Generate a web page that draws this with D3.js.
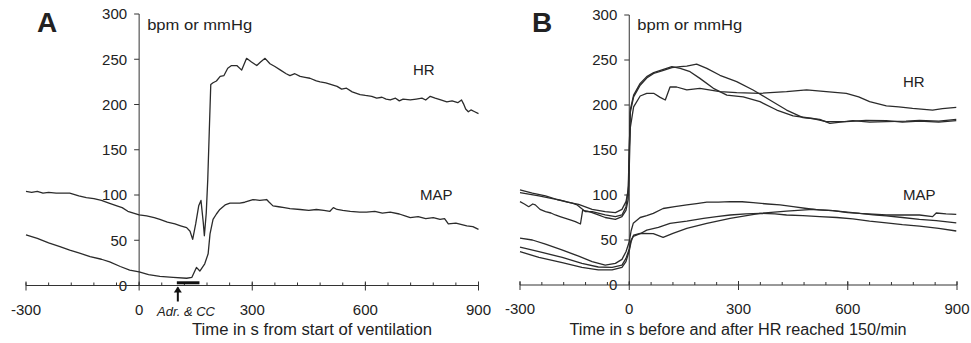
<!DOCTYPE html>
<meta charset="utf-8">
<title>HR and MAP</title>
<script src="https://cdn.jsdelivr.net/npm/d3@7/dist/d3.min.js"></script>
<style>
body { margin: 0; background: #fff; }
svg { display: block; }
text { font-family: "Liberation Sans", Arial, sans-serif; fill: #222; }
path.trace { fill: none; stroke: #2b2b2b; stroke-width: 1.3px; stroke-linejoin: round; }
line.ax { stroke: #333; stroke-width: 1px; }
</style>
<body>
<script>

// ticks
var xTicks = [-300, 0, 300, 600, 900];
var xMinor = d3.range(-300, 901, 60);
var yTicks = [0, 50, 100, 150, 200, 250, 300];

// panel A : [time s, value]
var aHR = [[-300,104],[-285,103],[-270,104],[-255,102],[-240,103],[-220,102],[-200,102],[-184,102],[-160,99],
  [-140,97],[-120,96],[-100,94],[-80,91],[-59,88],[-45,86],[-30,82],[-15,80],[0,78],[20,77],[40,75],[55,73],
  [75,70],[95,68],[110,66],[126,64],[135,60],[142,51],[150,68],[158,88],[164,94],[170,70],[173,55],[178,80],
  [182,117],[186,170],[190,222],[196,224],[205,226],[215,231],[225,232],[235,240],[245,243],[259,243],[272,238],
  [285,251],[298,247],[312,243],[322,247],[334,251],[347,245],[360,242],[375,238],[390,234],[400,232],[413,234],
  [427,231],[440,230],[453,229],[470,226],[480,225],[495,224],[510,222],[525,220],[537,217],[550,218],[565,214],
  [586,211],[600,210],[617,209],[630,207],[644,208],[655,206],[666,205],[680,207],[690,204],[700,206],[719,205],
  [735,206],[750,207],[760,205],[772,209],[785,207],[800,205],[816,203],[830,204],[845,202],[855,205],[860,201],
  [866,195],[873,192],[880,194],[890,192],[900,190]];

var aMAP = [[-300,56],[-270,52],[-240,47],[-210,43],[-184,39],[-160,36],[-130,32],[-100,29],[-78,26],[-50,21],
  [-25,17],[0,15],[25,12],[55,10],[90,9],[126,8],[140,9],[152,20],[161,16],[174,24],[183,35],[188,57],[196,73],
  [205,79],[214,84],[228,89],[241,91],[255,91],[267,91],[280,92],[302,95],[320,94],[338,95],[345,92],[355,88],
  [370,87],[385,86],[400,85],[427,84],[450,83],[470,84],[490,83],[506,82],[515,86],[525,84],[540,83],[560,82],
  [585,81],[603,81],[625,82],[645,80],[666,81],[690,79],[705,77],[719,75],[740,76],[760,74],[780,75],[798,73],
  [810,74],[820,68],[840,69],[869,66],[885,65],[900,62]];

// adrenaline & chest compression period [start s, end s, level]
var adrBar = [100, 160, 3];

// panel B : three animals each
var bHR1 = [[-300,105.6],[-266,102],[-230,99],[-198,95],[-170,92],[-139,89.6],[-102,84],[-66,81.5],[-38,80.4],
  [-20,84],[-9,92.6],[-3,105],[0,150],[3,195],[12,211],[30,224],[48,231.5],[67,236],[94,239.6],[117,242.6],
  [140,240.7],[167,237],[194,229.6],[231,218.5],[268,211],[313,209],[359,203.7],[405,194.4],[450,187.8],
  [504,185],[541,181.5],[596,181.5],[650,183],[706,182.6],[750,181],[797,182],[850,181],[898,182.6]];
var bHR2 = [[-300,102.6],[-248,99],[-184,93.7],[-157,91],[-143,89],[-120,81.5],[-102,81.5],[-66,77.8],[-38,76],
  [-20,77.8],[-9,87],[-2,110],[0,150],[3,192],[12,209],[30,222],[48,230],[67,235],[94,238.5],[117,241.5],
  [140,242.6],[158,243.3],[185,245.5],[213,240.7],[249,233],[295,226],[340,216.7],[386,205.6],[432,194.4],
  [477,186],[523,184],[551,179.6],[580,181],[614,182.6],[660,181],[706,181.5],[760,182],[797,183],[850,182],[898,184]];
var bHR3 = [[-300,92.6],[-288,90],[-276,87],[-265,90],[-258,89],[-245,84],[-230,81.5],[-215,80],[-203,77.8],
  [-190,76],[-175,74],[-160,72],[-148,70.4],[-134,67.8],[-128,83],[-115,82],[-102,80.4],[-85,78],[-66,75],
  [-38,73],[-20,76],[-9,83],[-3,95],[0,130],[3,175],[12,198],[30,210],[48,213],[67,213],[85,208.5],[99,205.6],
  [112,220],[130,220],[158,216.7],[194,218.5],[249,214.8],[295,213.7],[359,213],[432,214.8],[487,216.7],
  [541,214.8],[596,213],[630,209],[660,203.7],[706,199],[740,198],[778,196.3],[833,194.4],[860,196],[898,197.4]];

var bMAP1 = [[-300,52],[-266,50],[-230,45.5],[-185,39],[-139,32],[-102,26],[-66,22],[-38,24],[-20,28.5],[-9,37],
  [0,48],[5,60],[11,68.5],[30,75],[48,77],[66,79.6],[93,85],[125,87],[158,89],[185,90.5],[213,92],[245,92],
  [277,92.6],[310,92.5],[340,91.5],[380,90],[414,89],[450,87],[487,85],[520,83.5],[559,82.6],[600,80.5],
  [633,79.6],[670,78],[706,76.7],[750,75],[797,73],[843,71.5],[898,69]];
var bMAP2 = [[-300,42],[-248,37],[-184,30.7],[-130,24],[-85,20],[-47,19.6],[-20,22],[-9,29.6],[0,40],[5,50],
  [11,54],[30,57],[48,61],[80,64],[112,68.5],[158,71],[204,74],[240,76],[277,77.8],[320,79],[359,79.6],[400,79],
  [432,77.8],[477,77],[523,76],[570,75],[614,73.5],[660,71],[706,69],[750,67],[797,65.5],[850,63],[898,60]];
var bMAP3 = [[-300,37],[-248,30.7],[-184,24.8],[-130,19.6],[-85,16.7],[-47,16.7],[-20,19.6],[-9,26],[0,38],
  [5,48],[12,55.5],[30,57.4],[66,57],[93,53],[120,57.4],[158,63],[213,68.5],[277,74],[359,79.6],[432,82],
  [504,84],[559,82.6],[633,79.6],[706,77.8],[797,77.8],[833,76],[843,80],[870,79],[898,78.5]];

var W = 971, H = 343;
var svg = d3.select("body").append("svg").attr("width", W).attr("height", H);

function panel(o) {
  var x = d3.scaleLinear().domain([-300, 900]).range(o.xr);
  var y = d3.scaleLinear().domain([0, 300]).range(o.yr);
  var g = svg.append("g");

  // y tick labels
  g.selectAll("text.yl").data(yTicks).enter().append("text")
    .attr("class", "yl")
    .attr("x", x(0) - 12)
    .attr("y", function(d) { return y(d); })
    .attr("dy", "0.36em")
    .attr("text-anchor", "end")
    .style("font-size", "15px")
    .text(function(d) { return d; });

  // x axis
  g.append("line").attr("class", "ax")
    .attr("x1", x(-300)).attr("x2", x(900)).attr("y1", y(0)).attr("y2", y(0));
  g.selectAll("line.mi").data(xMinor).enter().append("line")
    .attr("class", "ax")
    .attr("x1", function(d) { return x(d); }).attr("x2", function(d) { return x(d); })
    .attr("y1", y(0) - 3).attr("y2", y(0));
  g.selectAll("line.ma").data(xTicks).enter().append("line")
    .attr("class", "ax")
    .attr("x1", function(d) { return x(d); }).attr("x2", function(d) { return x(d); })
    .attr("y1", y(0) - 4).attr("y2", y(0) + 5);
  g.selectAll("text.xl").data(xTicks).enter().append("text")
    .attr("x", function(d) { return x(d); })
    .attr("y", y(0) + 29)
    .attr("text-anchor", "middle")
    .style("font-size", "15px")
    .text(function(d) { return d; });

  // y axis
  g.append("line").attr("class", "ax")
    .attr("x1", x(0)).attr("x2", x(0)).attr("y1", y(300)).attr("y2", y(0));
  g.selectAll("line.yt").data(yTicks.slice(1)).enter().append("line")
    .attr("class", "ax")
    .attr("x1", x(0) - 5).attr("x2", x(0))
    .attr("y1", function(d) { return y(d); }).attr("y2", function(d) { return y(d); });

  var line = d3.line()
    .x(function(d) { return x(d[0]); })
    .y(function(d) { return y(d[1]); });

  o.series.forEach(function(s) {
    g.append("path").attr("class", "trace").attr("d", line(s));
  });

  g.append("text").attr("x", o.letter[0]).attr("y", o.letter[1])
    .style("font-size", "28px").style("font-weight", "bold").attr("fill", "#000")
    .text(o.name);
  g.append("text").attr("x", x(0) + 8).attr("y", 30)
    .style("font-size", "15px").attr("textLength", 105).attr("lengthAdjust", "spacingAndGlyphs")
    .text("bpm or mmHg");
  g.append("text").attr("x", o.hr[0]).attr("y", o.hr[1]).style("font-size", "15px").text("HR");
  g.append("text").attr("x", o.map[0]).attr("y", o.map[1]).style("font-size", "15px").text("MAP");
  g.append("text").attr("x", o.title[0]).attr("y", 335)
    .attr("text-anchor", "middle")
    .style("font-size", "16px")
    .attr("textLength", o.title[1]).attr("lengthAdjust", "spacingAndGlyphs")
    .text(o.title[2]);
  return {x: x, y: y, g: g};
}

var A = panel({
  name: "A", xr: [26, 478.5], yr: [285.5, 14],
  series: [aHR, aMAP],
  letter: [37, 32], hr: [413, 75], map: [420, 200],
  title: [312, 240, "Time in s from start of ventilation"]
});

// adrenaline / chest compression marker
A.g.append("line")
  .attr("x1", A.x(adrBar[0])).attr("x2", A.x(adrBar[1]))
  .attr("y1", A.y(adrBar[2])).attr("y2", A.y(adrBar[2]))
  .attr("stroke", "#111").attr("stroke-width", 3);
var ax0 = A.x(adrBar[0]) + 1;
A.g.append("line")
  .attr("x1", ax0).attr("x2", ax0).attr("y1", A.y(0) + 2).attr("y2", A.y(0) + 16)
  .attr("stroke", "#111").attr("stroke-width", 2);
A.g.append("path")
  .attr("d", "M" + (ax0 - 4) + "," + (A.y(0) + 7) + "L" + ax0 + "," + (A.y(0) + 1) + "L" + (ax0 + 4) + "," + (A.y(0) + 7) + "Z")
  .attr("fill", "#111");
A.g.append("text").attr("x", 157).attr("y", 316)
  .style("font-size", "12px").style("font-style", "italic")
  .attr("textLength", 58).attr("lengthAdjust", "spacingAndGlyphs")
  .text("Adr. & CC");

panel({
  name: "B", xr: [520, 957], yr: [285, 15],
  series: [bHR1, bHR2, bHR3, bMAP1, bMAP2, bMAP3],
  letter: [532, 32], hr: [903, 87], map: [903, 200],
  title: [738, 337, "Time in s before and after HR reached 150/min"]
});

</script>
</body>
</html>
